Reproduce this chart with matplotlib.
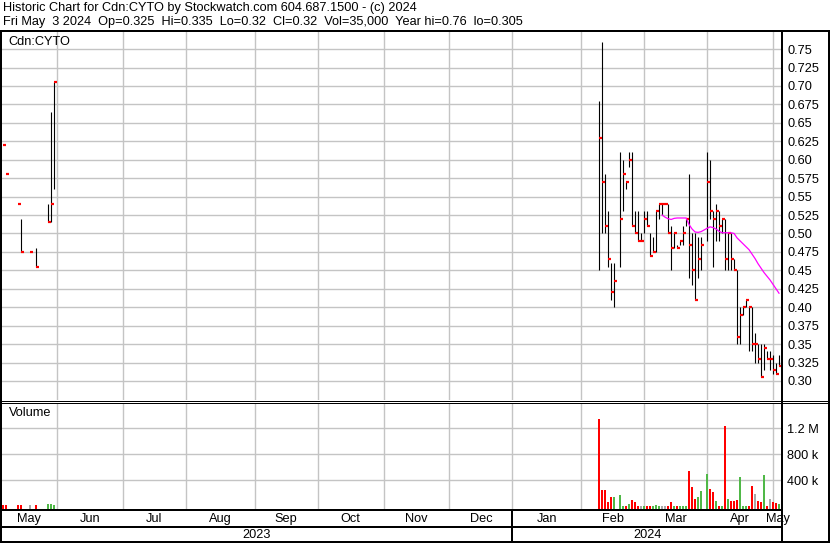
import numpy as np
import matplotlib.pyplot as plt
from matplotlib.lines import Line2D
from matplotlib import transforms

plt.rcParams['font.family'] = ['Liberation Sans', 'DejaVu Sans']

W, H = 830, 543
start = '2023-05-05'      # first weekday of the x axis
n_days = 261              # weekdays shown

# daily bars (high, low, close) and volume
dates = ['2023-05-08', '2023-05-09', '2023-05-15', '2023-05-16', '2023-05-19',
         '2023-05-23', '2023-05-29', '2023-05-30', '2023-05-31',
         '2024-02-09', '2024-02-12', '2024-02-13', '2024-02-14', '2024-02-15',
         '2024-02-16', '2024-02-20', '2024-02-21', '2024-02-22', '2024-02-23',
         '2024-02-26', '2024-02-27', '2024-02-28', '2024-02-29',
         '2024-03-01', '2024-03-04', '2024-03-05', '2024-03-06', '2024-03-07',
         '2024-03-08', '2024-03-11', '2024-03-12', '2024-03-13', '2024-03-14',
         '2024-03-15', '2024-03-18', '2024-03-19', '2024-03-20', '2024-03-21',
         '2024-03-22', '2024-03-25', '2024-03-26', '2024-03-27', '2024-03-28',
         '2024-04-01', '2024-04-02', '2024-04-03', '2024-04-04', '2024-04-05',
         '2024-04-08', '2024-04-09', '2024-04-10', '2024-04-11', '2024-04-12',
         '2024-04-15', '2024-04-16', '2024-04-17', '2024-04-18', '2024-04-19',
         '2024-04-22', '2024-04-23', '2024-04-24', '2024-04-25', '2024-04-26',
         '2024-04-29', '2024-04-30', '2024-05-01', '2024-05-02', '2024-05-03']
high = [0.62, 0.58, 0.54, 0.52, 0.475, 0.48, 0.54, 0.665, 0.705,
        0.68, 0.76, 0.58, 0.53, 0.46, 0.46, 0.61, 0.60, 0.57, 0.61,
        0.61, 0.53, 0.53, 0.50,
        0.53, 0.53, 0.50, 0.495, 0.53, 0.54, 0.54, 0.54, 0.54, 0.51,
        0.50, 0.485, 0.49, 0.51, 0.52, 0.58, 0.50, 0.50, 0.495, 0.495,
        0.61, 0.60, 0.53, 0.54, 0.53, 0.52, 0.52, 0.50, 0.50, 0.465,
        0.45, 0.40, 0.40, 0.41, 0.40, 0.40, 0.365, 0.35, 0.35, 0.35,
        0.34, 0.34, 0.335, 0.325, 0.335]
low = [0.62, 0.58, 0.54, 0.475, 0.475, 0.455, 0.515, 0.515, 0.56,
       0.45, 0.50, 0.50, 0.455, 0.41, 0.40, 0.455, 0.53, 0.56, 0.59,
       0.51, 0.50, 0.49, 0.49,
       0.50, 0.51, 0.47, 0.475, 0.475, 0.52, 0.525, 0.54, 0.50, 0.45,
       0.48, 0.48, 0.485, 0.485, 0.51, 0.44, 0.43, 0.41, 0.44, 0.45,
       0.49, 0.52, 0.455, 0.49, 0.49, 0.50, 0.45, 0.45, 0.45, 0.45,
       0.35, 0.35, 0.39, 0.40, 0.34, 0.34, 0.325, 0.325, 0.305, 0.315,
       0.33, 0.315, 0.31, 0.31, 0.32]
close = [0.62, 0.58, 0.54, 0.475, 0.475, 0.455, 0.515, 0.54, 0.705,
         0.63, 0.57, 0.51, 0.465, 0.42, 0.435, 0.52, 0.58, 0.57, 0.60,
         0.51, 0.50, 0.49, 0.49,
         0.52, 0.51, 0.47, 0.475, 0.53, 0.54, 0.54, 0.54, 0.50, 0.48,
         0.50, 0.48, 0.49, 0.50, 0.52, 0.485, 0.45, 0.41, 0.465, 0.485,
         0.57, 0.53, 0.52, 0.53, 0.51, 0.52, 0.465, 0.50, 0.465, 0.45,
         0.36, 0.39, 0.40, 0.41, 0.40, 0.35, 0.35, 0.33, 0.305, 0.345,
         0.33, 0.33, 0.315, 0.31, 0.32]
volume = [15000, 12000, 10000, 10000, 8000, 20000, 25000, 25000, 15000,
          1345000, 245000, 245000, 58000, 136000, 136000, 168000, 5000, 3000, 30000,
          90000, 60000, 3000, 3000,
          5000, 4000, 4000, 4000, 10000, 4000, 4000, 5000, 4000, 60000,
          5000, 4000, 3000, 4000, 3000, 540000, 290000, 105000, 136000, 230000,
          490000, 260000, 214000, 74000, 5000, 4000, 1237000, 105000, 74000, 74000,
          90000, 445000, 3000, 3000, 4000, 307000, 180000, 74000, 58000, 478000,
          3000, 105000, 58000, 43000, 35000]
last_open = 0.325

# moving average line
ma_dates = ['2024-03-11', '2024-03-12', '2024-03-13', '2024-03-14', '2024-03-15',
            '2024-03-18', '2024-03-19', '2024-03-20', '2024-03-21', '2024-03-22',
            '2024-03-25', '2024-03-26', '2024-03-27', '2024-03-28',
            '2024-04-01', '2024-04-02', '2024-04-03', '2024-04-04', '2024-04-05',
            '2024-04-08', '2024-04-09', '2024-04-10', '2024-04-11', '2024-04-12',
            '2024-04-15', '2024-04-16', '2024-04-17', '2024-04-18', '2024-04-19',
            '2024-04-22', '2024-04-23', '2024-04-24', '2024-04-25', '2024-04-26',
            '2024-04-29', '2024-04-30', '2024-05-01', '2024-05-02', '2024-05-03']
ma_values = [0.525, 0.522, 0.520, 0.519, 0.5205, 0.521, 0.521, 0.521, 0.521, 0.512,
             0.506, 0.502, 0.5015, 0.5025,
             0.507, 0.509, 0.508, 0.506, 0.503, 0.501, 0.501, 0.501, 0.501, 0.500,
             0.494, 0.490, 0.486, 0.482, 0.478, 0.472, 0.466, 0.459, 0.453, 0.447,
             0.442, 0.437, 0.431, 0.425, 0.419]

months = ['May', 'Jun', 'Jul', 'Aug', 'Sep', 'Oct', 'Nov', 'Dec',
          'Jan', 'Feb', 'Mar', 'Apr', 'May']
month_starts = ['2023-06-01', '2023-07-01', '2023-08-01', '2023-09-01', '2023-10-01',
                '2023-11-01', '2023-12-01', '2024-01-01', '2024-02-01', '2024-03-01',
                '2024-04-01', '2024-05-01']
years = ['2023', '2024']
price_ticks = [0.30, 0.325, 0.35, 0.375, 0.40, 0.425, 0.45, 0.475, 0.50, 0.525,
               0.55, 0.575, 0.60, 0.625, 0.65, 0.675, 0.70, 0.725, 0.75]
vol_ticks = [400000, 800000, 1200000]
vol_labels = ['400 k', '800 k', '1.2 M']

pos = np.busday_count(start, dates)
ma_pos = np.busday_count(start, ma_dates)
mpos = list(np.busday_count(start, month_starts))

GRID = '#c4c4c4'
FS = 9.2


def px_box(x0, y0, x1, y1):
    return [x0 / W, 1 - y1 / H, (x1 - x0) / W, (y1 - y0) / H]


def line(xs, ys, lw=2, color='black'):
    fig.add_artist(Line2D([x / W for x in xs], [1 - y / H for y in ys],
                          transform=fig.transFigure, color=color,
                          lw=lw * 0.72, zorder=10, solid_capstyle='butt'))


fig = plt.figure(figsize=(W / 100, H / 100), dpi=100)

# price panel
ax = fig.add_axes(px_box(0, 32, 782, 400))
ax.set_xlim(0, n_days)
ax.set_ylim(0.2742, 0.7732)
ax.set_yticks(price_ticks)
ax.set_yticklabels([f'{v:.3f}'[:-1] if f'{v:.3f}'.endswith('0') else f'{v:.3f}'
                    for v in price_ticks])
ax.set_xticks(mpos)
ax.yaxis.tick_right()
ax.tick_params(axis='y', length=0, pad=3.8, labelsize=FS)
ax.tick_params(axis='x', length=0, labelbottom=False)
ax.grid(True, color=GRID, lw=1.0)
ax.set_axisbelow(True)
for s in ax.spines.values():
    s.set_visible(False)

ax.vlines(pos, low, high, colors='black', lw=0.8)
ax.hlines(close, pos, pos + 0.9, colors='#ff0000', lw=1.6)
ax.plot(ma_pos, ma_values, color='#ff00ff', lw=0.9)

# volume panel
vlo = -57000
axv = fig.add_axes(px_box(0, 403, 782, 509.5))
axv.set_xlim(0, n_days)
axv.set_ylim(vlo, 1594000)
axv.set_yticks(vol_ticks)
axv.set_yticklabels(vol_labels)
axv.set_xticks(mpos)
axv.yaxis.tick_right()
axv.tick_params(axis='y', length=0, pad=3.8, labelsize=FS)
axv.tick_params(axis='x', length=0, labelbottom=False)
axv.grid(True, color=GRID, lw=1.0)
axv.set_axisbelow(True)
for s in axv.spines.values():
    s.set_visible(False)

colors = []
for k, c in enumerate(close):
    prev = close[k - 1] if k > 0 else c + 1
    colors.append('#ff0000' if c < prev else ('#50b848' if c > prev else '#a8a8a8'))
axv.bar(pos - 0.1, np.array(volume) - vlo, bottom=vlo, width=0.65, color=colors)

# texts
fig.text(3 / W, 1 - 8 / H,
         'Historic Chart for Cdn:CYTO by Stockwatch.com 604.687.1500 - (c) 2024',
         fontsize=FS, va='center')
fig.text(3 / W, 1 - 22 / H,
         f'Fri May  3 2024  Op={last_open}  Hi={high[-1]}  Lo={low[-1]}  '
         f'Cl={close[-1]}  Vol={volume[-1]:,}  Year hi={max(high)}  lo={min(low)}',
         fontsize=FS, va='center')
fig.text(8 / W, 1 - 42 / H, 'Cdn:CYTO', fontsize=FS, va='center')
fig.text(9 / W, 1 - 413 / H, 'Volume', fontsize=FS, va='center')

trans = transforms.blended_transform_factory(axv.transData, fig.transFigure)
bounds = [0] + mpos + [n_days]
for k, m in enumerate(months):
    fig.text((bounds[k] + bounds[k + 1]) / 2, 1 - 519 / H, m, transform=trans,
             fontsize=FS, ha='center', va='center')
jan = mpos[7]
for x, yr in zip([jan / 2, (jan + n_days) / 2], years):
    fig.text(x, 1 - 535 / H, yr, transform=trans, fontsize=FS,
             ha='center', va='center')

# frame lines
jan_px = jan * 782 / n_days
line([0, W], [31, 31])
line([1, 1], [31, H])
line([0, W], [400.5, 400.5], lw=1)
line([0, W], [402.5, 402.5], lw=1)
line([0, 783], [510, 510])
line([0, 783], [527, 527])
line([0, W], [542, 542])
line([782, 782], [31, H])
line([829, 829], [31, H])
line([jan_px, jan_px], [510, 542])

fig.savefig('out.png', dpi=100)
